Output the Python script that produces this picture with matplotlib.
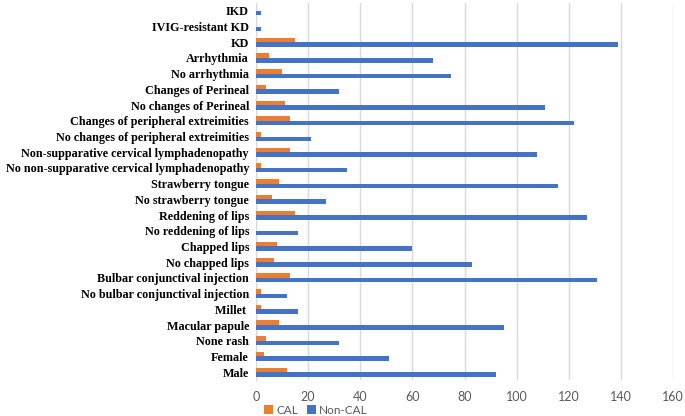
import matplotlib
matplotlib.use("Agg")
import matplotlib.pyplot as plt
import numpy as np

categories = [
    "Male", "Female", "None rash", "Macular papule", "Millet ",
    "No bulbar conjunctival injection", "Bulbar conjunctival injection",
    "No chapped lips", "Chapped lips", "No reddening of lips", "Reddening of lips",
    "No strawberry tongue", "Strawberry tongue",
    "No non-supparative cervical lymphadenopathy",
    "Non-supparative cervical lymphadenopathy",
    "No changes of peripheral extreimities", "Changes of peripheral extreimities",
    "No changes of Perineal", "Changes of Perineal",
    "No arrhythmia", "Arrhythmia", "KD", "IVIG-resistant KD", "IKD",
]
cal = [12, 3, 4, 9, 2, 2, 13, 7, 8, 0, 15, 6, 9, 2, 13, 2, 13, 11, 4, 10, 5, 15, 0, 0]
non_cal = [92, 51, 32, 95, 16, 12, 131, 83, 60, 16, 127, 27, 116, 35, 108, 21, 122, 111, 32, 75, 68, 139, 2, 2]
xticks = [0, 20, 40, 60, 80, 100, 120, 140, 160]

fig = plt.figure(figsize=(6.85, 4.16), dpi=100)
ax = fig.add_axes([256/685, 1 - 380/416, (673-256)/685, (380-3)/416])

y = np.arange(len(categories))
h = 0.29
ax.barh(y + h/2, cal, height=h, color="#ED7D31", label="CAL", zorder=3)
ax.barh(y - h/2, non_cal, height=h, color="#4472C4", label="Non-CAL", zorder=3)

ax.set_xlim(0, 160)
ax.set_ylim(-0.5, len(categories) - 0.5)
ax.set_xticks(xticks)
ax.set_xticklabels([str(t) for t in xticks], fontsize=9, color="#595959", family="Lato")
ax.set_yticks(y)
ax.set_yticklabels(categories, fontsize=8.7, fontweight="bold", family="Liberation Serif", color="black")
ax.tick_params(axis="both", length=0)
ax.tick_params(axis="y", pad=5)
ax.tick_params(axis="x", pad=8)
ax.grid(axis="x", color="#D9D9D9", linewidth=1, zorder=0)
for s in ["top", "right", "bottom"]:
    ax.spines[s].set_visible(False)
ax.spines["left"].set_color("#D9D9D9")

leg = fig.legend(loc="center", bbox_to_anchor=(316/685, 1 - 410/416), ncol=2, frameon=False,
                 prop={"family": "Lato", "size": 8.5}, handlelength=0.7, handleheight=0.7,
                 columnspacing=0.8, handletextpad=0.3)
for t in leg.get_texts():
    t.set_color("#595959")

fig.savefig("out.png", dpi=100)
